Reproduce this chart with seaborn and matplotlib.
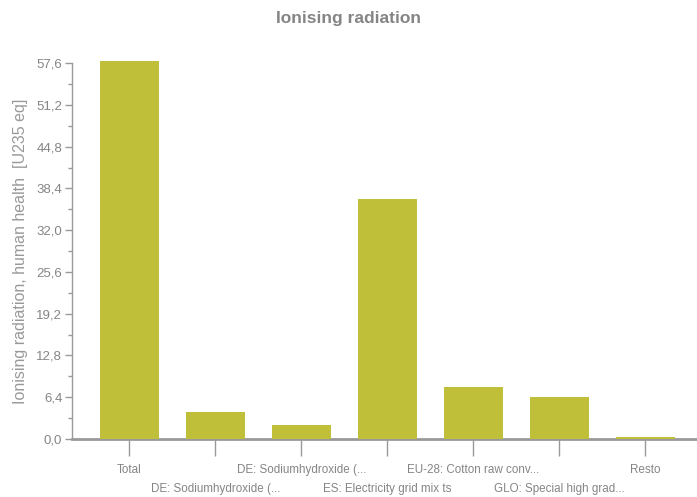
import numpy as np
import pandas as pd
import matplotlib
matplotlib.use('Agg')
import matplotlib.pyplot as plt
import seaborn as sns

categories = ['Total', 'DE: Sodiumhydroxide (...', 'DE: Sodiumhydroxide (...',
              'ES: Electricity grid mix ts', 'EU-28: Cotton raw conv...',
              'GLO: Special high grad...', 'Resto']
values = [58.0, 4.15, 2.15, 36.8, 8.0, 6.5, 0.3]
y_ticks = [0.0, 6.4, 12.8, 19.2, 25.6, 32.0, 38.4, 44.8, 51.2, 57.6]

sns.set_style('white')
plt.rcParams['font.family'] = ['Liberation Sans Narrow', 'Liberation Sans', 'DejaVu Sans']

grey = '#858585'
bar_color = '#bfbf3a'

df = pd.DataFrame({'cat': range(len(categories)), 'val': values})

fig = plt.figure(figsize=(6.97, 4.97), dpi=100)
ax = fig.add_axes([0.1033, 0.1167, 0.8967, 0.873 - 0.1167])
sns.barplot(x='cat', y='val', data=df, color=bar_color, width=0.69,
            saturation=1, ax=ax, native_scale=True, linewidth=0)
for p in ax.patches:
    p.set_clip_on(False)
    p.set_zorder(3)

ax.set_xlim(-0.665, 6.6)
ax.set_ylim(0, 57.6)

ax.set_yticks(y_ticks)
ax.set_yticklabels([('%.1f' % t).replace('.', ',') for t in y_ticks],
                   fontsize=9.5, color=grey)
ax.set_yticks([t + 3.2 for t in y_ticks[:-1]], minor=True)
ax.tick_params(axis='y', which='major', length=5, width=1, color='#999999', pad=2, left=True)
ax.tick_params(axis='y', which='minor', length=3, width=1, color='#999999', left=True)

ax.set_xticks(range(len(categories)))
ax.set_xticklabels(categories, fontsize=8.4, color=grey)
ax.tick_params(axis='x', length=12, width=1, color='#999999', bottom=True)
# alternate label rows like the original
for i, t in enumerate(ax.xaxis.get_major_ticks()):
    t.set_pad(6 if i % 2 == 0 else 20)

for s in ['top', 'right']:
    ax.spines[s].set_visible(False)
ax.spines['left'].set_color('#999999')
ax.spines['left'].set_linewidth(1)
ax.spines['bottom'].set_color('#999999')
ax.spines['bottom'].set_linewidth(2)

ax.set_xlabel('')
ax.set_ylabel('Ionising radiation, human health  [U235 eq]', fontsize=11.5,
              color='#999999', labelpad=6)
fig.text(0.5, 0.962, 'Ionising radiation', ha='center', va='center',
         fontsize=12.5, fontweight='bold', color=grey)

fig.savefig('out.png', dpi=100)
